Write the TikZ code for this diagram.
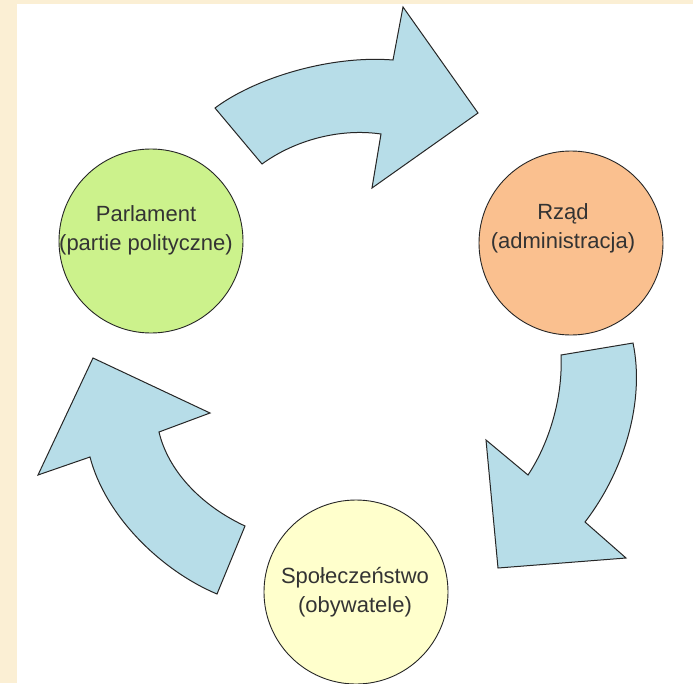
\documentclass[tikz,border=0pt]{standalone}
\usepackage{fontspec}
\setmainfont{Liberation Sans}
\usepackage{tikz}
\usetikzlibrary{positioning}

\definecolor{parchment}{RGB}{251,239,212}
\definecolor{arrowblue}{RGB}{183,221,232}
\definecolor{parlgreen}{RGB}{204,242,140}
\definecolor{rzadorange}{RGB}{250,192,143}
\definecolor{spolyellow}{RGB}{255,255,204}

\begin{document}
\begin{tikzpicture}
        [x=1pt,y=-1pt,
         body/.style={circle,draw=black!85,line width=.9pt,minimum size=184pt,inner sep=0pt},
         caption/.style={align=center,font=\fontsize{22}{29}\selectfont,text=black!80},
         bigarrow/.style={draw=black!85,line width=1pt,fill=arrowblue,line join=miter}]
        % background
        \useasboundingbox (0,0) rectangle (693,683);
        \fill[parchment] (0,0) rectangle (693,683);
        \fill[white] (17,4) rectangle (693,683);

        % the three bodies
        \node[body,fill=parlgreen] (parl) at (151,241) {};
        \node[body,fill=rzadorange] (rzad) at (571,243) {};
        \node[body,fill=spolyellow] (spol) at (356,592) {};

        \node[caption] (parltext) at (146,230) {Parlament\\(partie polityczne)};
        \node[caption] (rzadtext) at (563,228) {Rząd\\(administracja)};
        \node[caption] (spoltext) at (355,592) {Społeczeństwo\\(obywatele)};

        % arrows between them
        \draw[bigarrow] (215,108) .. controls (255,78) and (330,55) .. (393,60)
            -- (403,7) -- (478,113) -- (372,188) -- (381,134)
            .. controls (340,128) and (295,140) .. (262,164) -- cycle;
        \draw[bigarrow] (633,343) .. controls (645,400) and (625,470) .. (585,522)
            -- (626,558) -- (498,568) -- (486,440) -- (528,475)
            .. controls (548,445) and (563,400) .. (561,355) -- cycle;
        \draw[bigarrow] (217,594) .. controls (160,570) and (105,515) .. (90,457)
            -- (38,475) -- (93,358) -- (210,413) -- (159,432)
            .. controls (168,470) and (200,505) .. (245,526) -- cycle;

      \end{tikzpicture}
\end{document}
